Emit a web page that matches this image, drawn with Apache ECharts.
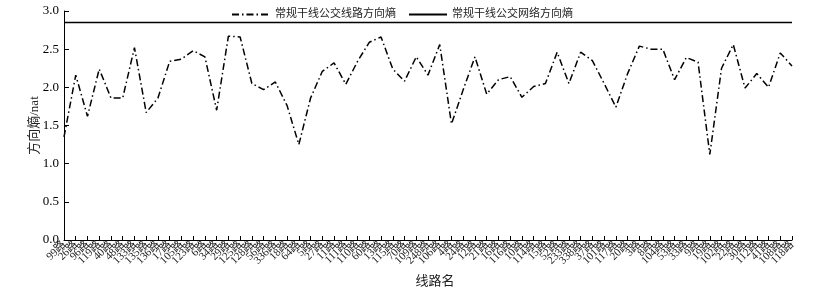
<!DOCTYPE html>
<html><head><meta charset="utf-8">
<script src="https://cdn.jsdelivr.net/npm/echarts@6/dist/echarts.min.js"></script>
<style>html,body{margin:0;padding:0;background:#fff}#c{width:826px;height:289px}</style>
</head><body><div id="c"></div>
<script>
const categories = ["99路","26路","96路","119路","40路","48路","133路","135路","136路","17路","105路","123路","6路","34路","29路","125路","128路","56路","336路","18路","64路","5路","27路","11路","111路","110路","60路","13路","115路","70路","109路","248路","106路","4路","24路","12路","21路","16路","116路","10路","114路","15路","52路","233路","338路","37路","101路","117路","20路","3路","8路","104路","53路","33路","9路","19路","102路","22路","30路","112路","41路","108路","118路"];
const routeEntropy = [1.35,2.16,1.62,2.24,1.86,1.86,2.52,1.67,1.86,2.34,2.37,2.48,2.40,1.70,2.67,2.66,2.05,1.97,2.07,1.76,1.25,1.86,2.21,2.32,2.04,2.34,2.59,2.66,2.24,2.08,2.40,2.16,2.56,1.52,1.97,2.40,1.91,2.10,2.14,1.87,2.01,2.05,2.46,2.05,2.46,2.35,2.05,1.74,2.18,2.54,2.50,2.50,2.10,2.39,2.33,1.12,2.25,2.56,1.99,2.18,2.00,2.45,2.28];
const networkEntropy = categories.map(() => 2.85);
const yTicks = [0,0.5,1.0,1.5,2.0,2.5,3.0];
const seriesNames = ["常规干线公交线路方向熵","常规干线公交网络方向熵"];

const font = "'Liberation Serif','Noto Sans CJK SC',serif";
const chart = echarts.init(document.getElementById('c'));
chart.setOption({
  animation:false,
  textStyle:{fontFamily:font,color:'#000'},
  legend:{
    show:true, top:4, left:226, itemWidth:38, itemHeight:10, itemGap:12,
    textStyle:{fontFamily:font,fontSize:11,color:'#222'},
    itemStyle:{opacity:0},
    data:seriesNames
  },
  grid:{left:64,right:34,top:11,bottom:49,outerBoundsMode:'none',containLabel:false},
  xAxis:{
    type:'category', data:categories, boundaryGap:false,
    name:'线路名', nameLocation:'middle', nameGap:35, nameMoveOverlap:false,
    nameTextStyle:{fontFamily:font,fontSize:13,color:'#222',padding:[0,0,0,14]},
    axisLine:{lineStyle:{color:'#000',width:1}},
    axisTick:{inside:true,alignWithLabel:true,length:4,lineStyle:{color:'#000'}},
    axisLabel:{interval:0,rotate:45,fontSize:11,color:'#222',fontFamily:font,margin:3},
    splitLine:{show:false}
  },
  yAxis:{
    type:'value', min:0, max:3, interval:0.5,
    name:'方向熵/nat', nameLocation:'middle', nameGap:23, nameMoveOverlap:false,
    nameTextStyle:{fontFamily:font,fontSize:13,color:'#222'},
    axisLine:{show:true,lineStyle:{color:'#000',width:1}},
    axisTick:{show:true,inside:true,length:5,lineStyle:{color:'#000'}},
    axisLabel:{fontSize:13,color:'#000',fontFamily:font,formatter:v=>v.toFixed(1),margin:5},
    splitLine:{show:false}
  },
  series:[
    {name:seriesNames[0], type:'line', data:routeEntropy, showSymbol:false, symbol:'none',
     lineStyle:{color:'#000',width:1.5,type:[7,3,1.5,3]}, itemStyle:{color:'#000'}},
    {name:seriesNames[1], type:'line', data:networkEntropy, showSymbol:false, symbol:'none',
     lineStyle:{color:'#000',width:1.5,type:'solid'}, itemStyle:{color:'#000'}}
  ]
});
</script></body></html>
